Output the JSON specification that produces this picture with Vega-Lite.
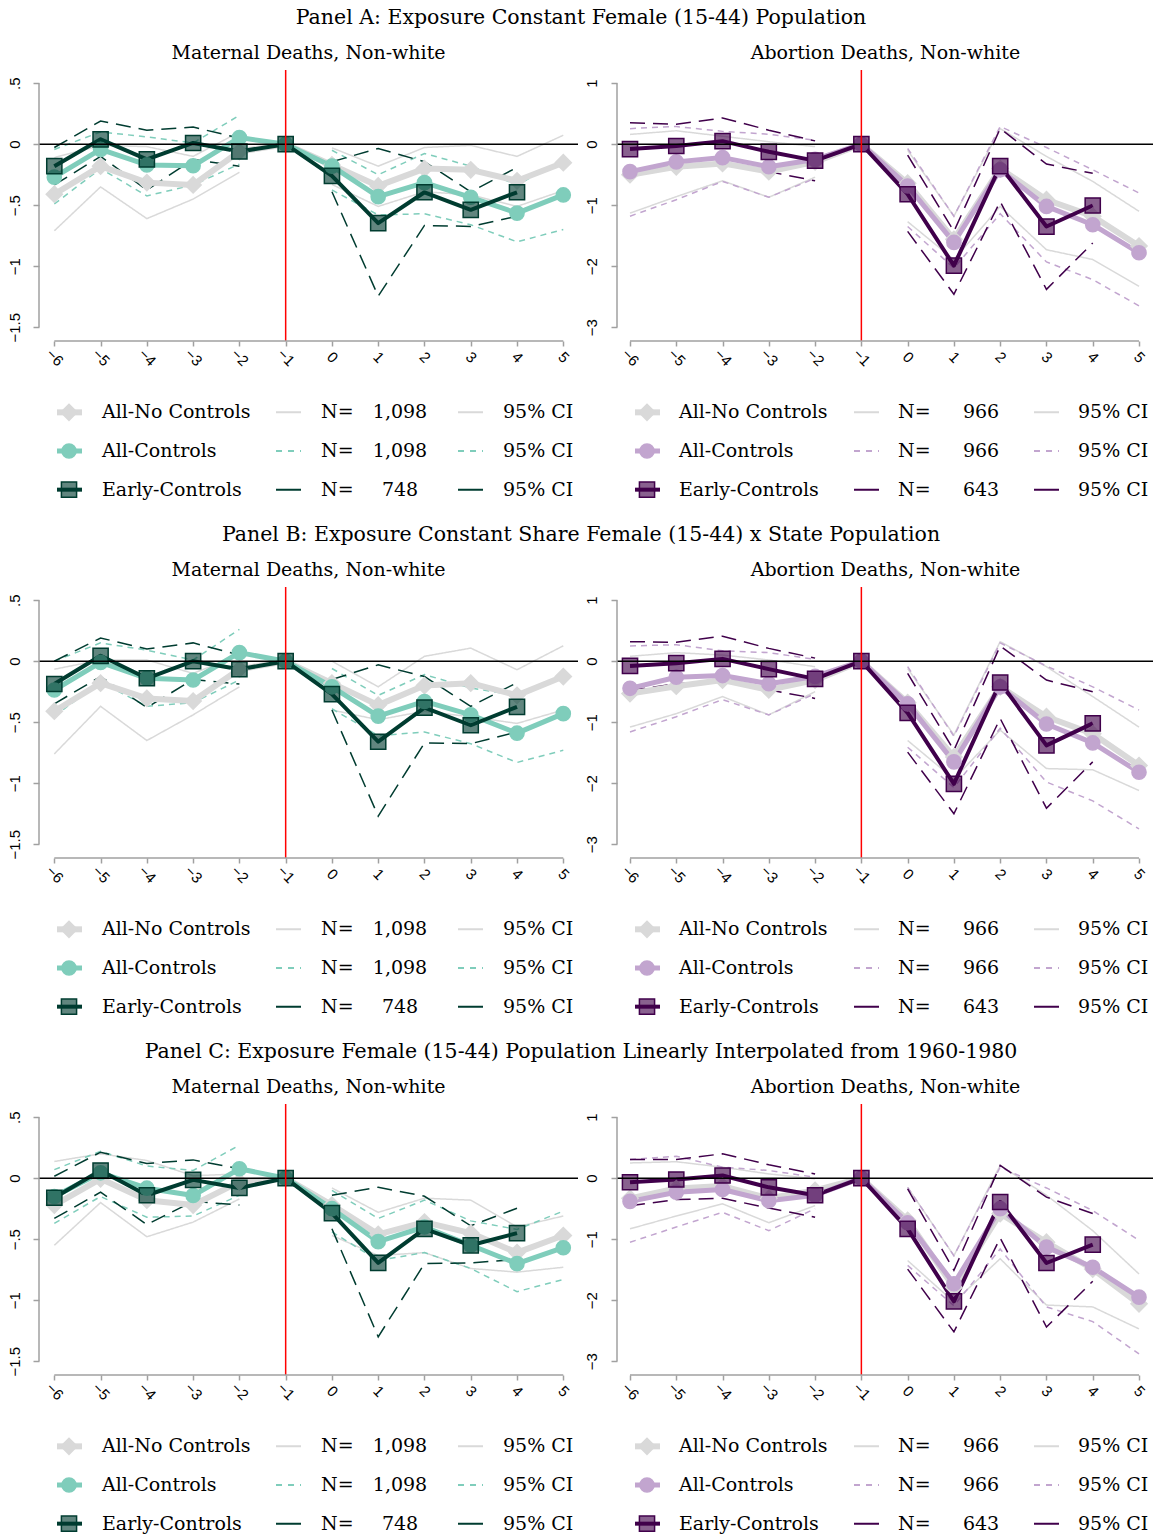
{
"$schema":"https://vega.github.io/schema/vega-lite/v6.json",
"padding":{"left":7,"top":5,"right":0,"bottom":0},
"background":"white",
"config":{"view":{"stroke":null},"font":"DejaVu Serif","legend":{"disable":true},
"title":{"font":"DejaVu Serif","fontSize":19,"fontWeight":"normal","color":"black"},
"axis":{"labelFont":"Liberation Sans","labelFontSize":15,"labelColor":"black","tickColor":"#a0a0a0","tickWidth":1.5,"domain":false,"grid":false}},
"datasets":{
"lm":[{"s":"mnc","lab":"All-No Controls","n":"1,098"},{"s":"mc","lab":"All-Controls","n":"1,098"},{"s":"me","lab":"Early-Controls","n":"748"}],
"la":[{"s":"anc","lab":"All-No Controls","n":"966"},{"s":"ac","lab":"All-Controls","n":"966"},{"s":"ae","lab":"Early-Controls","n":"643"}],
"d":[
{"p":"A","s":"mnc","t":-6,"b":-0.41,"lo":-0.71,"hi":-0.11},
{"p":"A","s":"mnc","t":-5,"b":-0.18,"lo":-0.35,"hi":-0.01},
{"p":"A","s":"mnc","t":-4,"b":-0.315,"lo":-0.61,"hi":-0.02},
{"p":"A","s":"mnc","t":-3,"b":-0.334,"lo":-0.45,"hi":-0.1},
{"p":"A","s":"mnc","t":-2,"b":-0.06,"lo":-0.23,"hi":0.1},
{"p":"A","s":"mnc","t":-1,"b":0,"lo":null,"hi":null},
{"p":"A","s":"mnc","t":0,"b":-0.17,"lo":-0.33,"hi":-0.03},
{"p":"A","s":"mnc","t":1,"b":-0.342,"lo":-0.51,"hi":-0.18},
{"p":"A","s":"mnc","t":2,"b":-0.2,"lo":-0.39,"hi":-0.027},
{"p":"A","s":"mnc","t":3,"b":-0.21,"lo":-0.415,"hi":-0.01},
{"p":"A","s":"mnc","t":4,"b":-0.3,"lo":-0.51,"hi":-0.1},
{"p":"A","s":"mnc","t":5,"b":-0.152,"lo":-0.38,"hi":0.073},
{"p":"A","s":"mc","t":-6,"b":-0.27,"lo":-0.49,"hi":-0.043},
{"p":"A","s":"mc","t":-5,"b":-0.043,"lo":-0.2,"hi":0.1},
{"p":"A","s":"mc","t":-4,"b":-0.17,"lo":-0.424,"hi":0.06},
{"p":"A","s":"mc","t":-3,"b":-0.177,"lo":-0.334,"hi":0.01},
{"p":"A","s":"mc","t":-2,"b":0.054,"lo":-0.163,"hi":0.236},
{"p":"A","s":"mc","t":-1,"b":0,"lo":null,"hi":null},
{"p":"A","s":"mc","t":0,"b":-0.18,"lo":-0.375,"hi":-0.05},
{"p":"A","s":"mc","t":1,"b":-0.43,"lo":-0.58,"hi":-0.25},
{"p":"A","s":"mc","t":2,"b":-0.315,"lo":-0.57,"hi":-0.076},
{"p":"A","s":"mc","t":3,"b":-0.435,"lo":-0.66,"hi":-0.18},
{"p":"A","s":"mc","t":4,"b":-0.565,"lo":-0.8,"hi":-0.334},
{"p":"A","s":"mc","t":5,"b":-0.416,"lo":-0.7,"hi":-0.13},
{"p":"A","s":"me","t":-6,"b":-0.18,"lo":-0.334,"hi":-0.027},
{"p":"A","s":"me","t":-5,"b":0.04,"lo":-0.1,"hi":0.19},
{"p":"A","s":"me","t":-4,"b":-0.125,"lo":-0.375,"hi":0.114},
{"p":"A","s":"me","t":-3,"b":0.01,"lo":-0.125,"hi":0.14},
{"p":"A","s":"me","t":-2,"b":-0.06,"lo":-0.18,"hi":0.05},
{"p":"A","s":"me","t":-1,"b":0,"lo":null,"hi":null},
{"p":"A","s":"me","t":0,"b":-0.26,"lo":-0.39,"hi":-0.144},
{"p":"A","s":"me","t":1,"b":-0.647,"lo":-1.245,"hi":-0.035},
{"p":"A","s":"me","t":2,"b":-0.394,"lo":-0.666,"hi":-0.144},
{"p":"A","s":"me","t":3,"b":-0.538,"lo":-0.674,"hi":-0.39},
{"p":"A","s":"me","t":4,"b":-0.394,"lo":-0.59,"hi":-0.19},
{"p":"A","s":"anc","t":-6,"b":-0.5,"lo":-1.13,"hi":0.16},
{"p":"A","s":"anc","t":-5,"b":-0.37,"lo":-0.86,"hi":0.22},
{"p":"A","s":"anc","t":-4,"b":-0.315,"lo":-0.6,"hi":0.13},
{"p":"A","s":"anc","t":-3,"b":-0.45,"lo":-0.87,"hi":0.04},
{"p":"A","s":"anc","t":-2,"b":-0.29,"lo":-0.54,"hi":-0.04},
{"p":"A","s":"anc","t":-1,"b":0,"lo":null,"hi":null},
{"p":"A","s":"anc","t":0,"b":-0.64,"lo":-1.27,"hi":-0.1},
{"p":"A","s":"anc","t":1,"b":-1.56,"lo":-1.89,"hi":-1.18},
{"p":"A","s":"anc","t":2,"b":-0.4,"lo":-1.02,"hi":0.255},
{"p":"A","s":"anc","t":3,"b":-0.91,"lo":-1.73,"hi":-0.2},
{"p":"A","s":"anc","t":4,"b":-1.18,"lo":-1.89,"hi":-0.61},
{"p":"A","s":"anc","t":5,"b":-1.67,"lo":-2.33,"hi":-1.1},
{"p":"A","s":"ac","t":-6,"b":-0.45,"lo":-1.18,"hi":0.255},
{"p":"A","s":"ac","t":-5,"b":-0.29,"lo":-0.91,"hi":0.29},
{"p":"A","s":"ac","t":-4,"b":-0.22,"lo":-0.61,"hi":0.21},
{"p":"A","s":"ac","t":-3,"b":-0.37,"lo":-0.87,"hi":0.163},
{"p":"A","s":"ac","t":-2,"b":-0.25,"lo":-0.56,"hi":0.065},
{"p":"A","s":"ac","t":-1,"b":0,"lo":null,"hi":null},
{"p":"A","s":"ac","t":0,"b":-0.685,"lo":-1.35,"hi":-0.07},
{"p":"A","s":"ac","t":1,"b":-1.61,"lo":-2.03,"hi":-1.18},
{"p":"A","s":"ac","t":2,"b":-0.42,"lo":-1.14,"hi":0.29},
{"p":"A","s":"ac","t":3,"b":-1.02,"lo":-1.93,"hi":-0.054},
{"p":"A","s":"ac","t":4,"b":-1.32,"lo":-2.22,"hi":-0.42},
{"p":"A","s":"ac","t":5,"b":-1.78,"lo":-2.65,"hi":-0.8},
{"p":"A","s":"ae","t":-6,"b":-0.08,"lo":-0.49,"hi":0.35},
{"p":"A","s":"ae","t":-5,"b":-0.03,"lo":-0.36,"hi":0.326},
{"p":"A","s":"ae","t":-4,"b":0.05,"lo":-0.326,"hi":0.43},
{"p":"A","s":"ae","t":-3,"b":-0.125,"lo":-0.45,"hi":0.23},
{"p":"A","s":"ae","t":-2,"b":-0.27,"lo":-0.6,"hi":0.054},
{"p":"A","s":"ae","t":-1,"b":0,"lo":null,"hi":null},
{"p":"A","s":"ae","t":0,"b":-0.82,"lo":-1.43,"hi":-0.18},
{"p":"A","s":"ae","t":1,"b":-1.99,"lo":-2.46,"hi":-1.43},
{"p":"A","s":"ae","t":2,"b":-0.36,"lo":-0.94,"hi":0.255},
{"p":"A","s":"ae","t":3,"b":-1.35,"lo":-2.38,"hi":-0.326},
{"p":"A","s":"ae","t":4,"b":-1.005,"lo":-1.62,"hi":-0.478},
{"p":"B","s":"mnc","t":-6,"b":-0.41,"lo":-0.76,"hi":-0.066},
{"p":"B","s":"mnc","t":-5,"b":-0.18,"lo":-0.37,"hi":0.01},
{"p":"B","s":"mnc","t":-4,"b":-0.305,"lo":-0.65,"hi":0.01},
{"p":"B","s":"mnc","t":-3,"b":-0.327,"lo":-0.44,"hi":-0.1},
{"p":"B","s":"mnc","t":-2,"b":-0.066,"lo":-0.21,"hi":0.05},
{"p":"B","s":"mnc","t":-1,"b":0,"lo":null,"hi":null},
{"p":"B","s":"mnc","t":0,"b":-0.18,"lo":-0.4,"hi":0.0},
{"p":"B","s":"mnc","t":1,"b":-0.36,"lo":-0.48,"hi":-0.21},
{"p":"B","s":"mnc","t":2,"b":-0.2,"lo":-0.41,"hi":0.04},
{"p":"B","s":"mnc","t":3,"b":-0.18,"lo":-0.456,"hi":0.107},
{"p":"B","s":"mnc","t":4,"b":-0.28,"lo":-0.51,"hi":-0.07},
{"p":"B","s":"mnc","t":5,"b":-0.126,"lo":-0.4,"hi":0.126},
{"p":"B","s":"mc","t":-6,"b":-0.236,"lo":-0.45,"hi":0.0},
{"p":"B","s":"mc","t":-5,"b":-0.01,"lo":-0.17,"hi":0.15},
{"p":"B","s":"mc","t":-4,"b":-0.14,"lo":-0.37,"hi":0.09},
{"p":"B","s":"mc","t":-3,"b":-0.154,"lo":-0.34,"hi":0.01},
{"p":"B","s":"mc","t":-2,"b":0.07,"lo":-0.154,"hi":0.26},
{"p":"B","s":"mc","t":-1,"b":0,"lo":null,"hi":null},
{"p":"B","s":"mc","t":0,"b":-0.21,"lo":-0.39,"hi":-0.06},
{"p":"B","s":"mc","t":1,"b":-0.45,"lo":-0.61,"hi":-0.28},
{"p":"B","s":"mc","t":2,"b":-0.33,"lo":-0.58,"hi":-0.11},
{"p":"B","s":"mc","t":3,"b":-0.44,"lo":-0.676,"hi":-0.22},
{"p":"B","s":"mc","t":4,"b":-0.59,"lo":-0.83,"hi":-0.28},
{"p":"B","s":"mc","t":5,"b":-0.43,"lo":-0.73,"hi":-0.126},
{"p":"B","s":"me","t":-6,"b":-0.187,"lo":-0.35,"hi":0.0},
{"p":"B","s":"me","t":-5,"b":0.044,"lo":-0.126,"hi":0.19},
{"p":"B","s":"me","t":-4,"b":-0.14,"lo":-0.38,"hi":0.1},
{"p":"B","s":"me","t":-3,"b":0.0,"lo":-0.15,"hi":0.15},
{"p":"B","s":"me","t":-2,"b":-0.066,"lo":-0.187,"hi":0.05},
{"p":"B","s":"me","t":-1,"b":0,"lo":null,"hi":null},
{"p":"B","s":"me","t":0,"b":-0.27,"lo":-0.4,"hi":-0.15},
{"p":"B","s":"me","t":1,"b":-0.66,"lo":-1.27,"hi":-0.03},
{"p":"B","s":"me","t":2,"b":-0.38,"lo":-0.67,"hi":-0.126},
{"p":"B","s":"me","t":3,"b":-0.525,"lo":-0.676,"hi":-0.37},
{"p":"B","s":"me","t":4,"b":-0.374,"lo":-0.58,"hi":-0.176},
{"p":"B","s":"anc","t":-6,"b":-0.53,"lo":-1.08,"hi":0.08},
{"p":"B","s":"anc","t":-5,"b":-0.41,"lo":-0.86,"hi":0.14},
{"p":"B","s":"anc","t":-4,"b":-0.31,"lo":-0.58,"hi":0.1},
{"p":"B","s":"anc","t":-3,"b":-0.47,"lo":-0.88,"hi":0.02},
{"p":"B","s":"anc","t":-2,"b":-0.31,"lo":-0.5,"hi":-0.09},
{"p":"B","s":"anc","t":-1,"b":0,"lo":null,"hi":null},
{"p":"B","s":"anc","t":0,"b":-0.68,"lo":-1.3,"hi":-0.12},
{"p":"B","s":"anc","t":1,"b":-1.57,"lo":-1.93,"hi":-1.21},
{"p":"B","s":"anc","t":2,"b":-0.42,"lo":-1.13,"hi":0.32},
{"p":"B","s":"anc","t":3,"b":-0.91,"lo":-1.76,"hi":-0.09},
{"p":"B","s":"anc","t":4,"b":-1.19,"lo":-1.78,"hi":-0.58},
{"p":"B","s":"anc","t":5,"b":-1.71,"lo":-2.12,"hi":-1.08},
{"p":"B","s":"ac","t":-6,"b":-0.445,"lo":-1.16,"hi":0.25},
{"p":"B","s":"ac","t":-5,"b":-0.264,"lo":-0.91,"hi":0.27},
{"p":"B","s":"ac","t":-4,"b":-0.236,"lo":-0.63,"hi":0.17},
{"p":"B","s":"ac","t":-3,"b":-0.37,"lo":-0.88,"hi":0.14},
{"p":"B","s":"ac","t":-2,"b":-0.25,"lo":-0.53,"hi":0.03},
{"p":"B","s":"ac","t":-1,"b":0,"lo":null,"hi":null},
{"p":"B","s":"ac","t":0,"b":-0.7,"lo":-1.41,"hi":-0.09},
{"p":"B","s":"ac","t":1,"b":-1.65,"lo":-2.07,"hi":-1.23},
{"p":"B","s":"ac","t":2,"b":-0.42,"lo":-1.1,"hi":0.3},
{"p":"B","s":"ac","t":3,"b":-1.03,"lo":-1.98,"hi":-0.08},
{"p":"B","s":"ac","t":4,"b":-1.34,"lo":-2.29,"hi":-0.42},
{"p":"B","s":"ac","t":5,"b":-1.82,"lo":-2.75,"hi":-0.8},
{"p":"B","s":"ae","t":-6,"b":-0.077,"lo":-0.48,"hi":0.32},
{"p":"B","s":"ae","t":-5,"b":-0.033,"lo":-0.37,"hi":0.31},
{"p":"B","s":"ae","t":-4,"b":0.038,"lo":-0.335,"hi":0.41},
{"p":"B","s":"ae","t":-3,"b":-0.13,"lo":-0.47,"hi":0.21},
{"p":"B","s":"ae","t":-2,"b":-0.29,"lo":-0.61,"hi":0.05},
{"p":"B","s":"ae","t":-1,"b":0,"lo":null,"hi":null},
{"p":"B","s":"ae","t":0,"b":-0.846,"lo":-1.49,"hi":-0.2},
{"p":"B","s":"ae","t":1,"b":-2.01,"lo":-2.5,"hi":-1.46},
{"p":"B","s":"ae","t":2,"b":-0.35,"lo":-0.94,"hi":0.25},
{"p":"B","s":"ae","t":3,"b":-1.38,"lo":-2.41,"hi":-0.31},
{"p":"B","s":"ae","t":4,"b":-1.02,"lo":-1.65,"hi":-0.5},
{"p":"C","s":"mnc","t":-6,"b":-0.22,"lo":-0.55,"hi":0.137},
{"p":"C","s":"mnc","t":-5,"b":-0.005,"lo":-0.2,"hi":0.2},
{"p":"C","s":"mnc","t":-4,"b":-0.18,"lo":-0.48,"hi":0.145},
{"p":"C","s":"mnc","t":-3,"b":-0.22,"lo":-0.36,"hi":0.02},
{"p":"C","s":"mnc","t":-2,"b":-0.03,"lo":-0.17,"hi":0.035},
{"p":"C","s":"mnc","t":-1,"b":0,"lo":null,"hi":null},
{"p":"C","s":"mnc","t":0,"b":-0.22,"lo":-0.47,"hi":-0.08},
{"p":"C","s":"mnc","t":1,"b":-0.46,"lo":-0.634,"hi":-0.28},
{"p":"C","s":"mnc","t":2,"b":-0.36,"lo":-0.61,"hi":-0.164},
{"p":"C","s":"mnc","t":3,"b":-0.45,"lo":-0.74,"hi":-0.18},
{"p":"C","s":"mnc","t":4,"b":-0.61,"lo":-0.77,"hi":-0.4},
{"p":"C","s":"mnc","t":5,"b":-0.47,"lo":-0.73,"hi":-0.31},
{"p":"C","s":"mc","t":-6,"b":-0.15,"lo":-0.37,"hi":0.07},
{"p":"C","s":"mc","t":-5,"b":0.044,"lo":-0.15,"hi":0.22},
{"p":"C","s":"mc","t":-4,"b":-0.082,"lo":-0.32,"hi":0.1},
{"p":"C","s":"mc","t":-3,"b":-0.142,"lo":-0.31,"hi":0.063},
{"p":"C","s":"mc","t":-2,"b":0.077,"lo":-0.14,"hi":0.27},
{"p":"C","s":"mc","t":-1,"b":0,"lo":null,"hi":null},
{"p":"C","s":"mc","t":0,"b":-0.25,"lo":-0.44,"hi":-0.1},
{"p":"C","s":"mc","t":1,"b":-0.52,"lo":-0.675,"hi":-0.33},
{"p":"C","s":"mc","t":2,"b":-0.4,"lo":-0.61,"hi":-0.18},
{"p":"C","s":"mc","t":3,"b":-0.55,"lo":-0.74,"hi":-0.35},
{"p":"C","s":"mc","t":4,"b":-0.7,"lo":-0.93,"hi":-0.42},
{"p":"C","s":"mc","t":5,"b":-0.57,"lo":-0.83,"hi":-0.27},
{"p":"C","s":"me","t":-6,"b":-0.16,"lo":-0.33,"hi":0.016},
{"p":"C","s":"me","t":-5,"b":0.063,"lo":-0.115,"hi":0.213},
{"p":"C","s":"me","t":-4,"b":-0.14,"lo":-0.38,"hi":0.12},
{"p":"C","s":"me","t":-3,"b":-0.014,"lo":-0.19,"hi":0.15},
{"p":"C","s":"me","t":-2,"b":-0.08,"lo":-0.22,"hi":0.077},
{"p":"C","s":"me","t":-1,"b":0,"lo":null,"hi":null},
{"p":"C","s":"me","t":0,"b":-0.287,"lo":-0.415,"hi":-0.14},
{"p":"C","s":"me","t":1,"b":-0.694,"lo":-1.3,"hi":-0.074},
{"p":"C","s":"me","t":2,"b":-0.415,"lo":-0.7,"hi":-0.148},
{"p":"C","s":"me","t":3,"b":-0.55,"lo":-0.694,"hi":-0.39},
{"p":"C","s":"me","t":4,"b":-0.45,"lo":-0.667,"hi":-0.246},
{"p":"C","s":"anc","t":-6,"b":-0.33,"lo":-0.83,"hi":0.25},
{"p":"C","s":"anc","t":-5,"b":-0.17,"lo":-0.62,"hi":0.27},
{"p":"C","s":"anc","t":-4,"b":-0.13,"lo":-0.42,"hi":0.18},
{"p":"C","s":"anc","t":-3,"b":-0.33,"lo":-0.73,"hi":0.07},
{"p":"C","s":"anc","t":-2,"b":-0.2,"lo":-0.45,"hi":-0.01},
{"p":"C","s":"anc","t":-1,"b":0,"lo":null,"hi":null},
{"p":"C","s":"anc","t":0,"b":-0.69,"lo":-1.35,"hi":-0.15},
{"p":"C","s":"anc","t":1,"b":-1.79,"lo":-2.03,"hi":-1.27},
{"p":"C","s":"anc","t":2,"b":-0.58,"lo":-1.32,"hi":0.21},
{"p":"C","s":"anc","t":3,"b":-1.05,"lo":-2.08,"hi":-0.28},
{"p":"C","s":"anc","t":4,"b":-1.49,"lo":-2.11,"hi":-0.86},
{"p":"C","s":"anc","t":5,"b":-2.06,"lo":-2.47,"hi":-1.57},
{"p":"C","s":"ac","t":-6,"b":-0.38,"lo":-1.05,"hi":0.306},
{"p":"C","s":"ac","t":-5,"b":-0.23,"lo":-0.8,"hi":0.36},
{"p":"C","s":"ac","t":-4,"b":-0.186,"lo":-0.56,"hi":0.18},
{"p":"C","s":"ac","t":-3,"b":-0.37,"lo":-0.86,"hi":0.126},
{"p":"C","s":"ac","t":-2,"b":-0.28,"lo":-0.5,"hi":0.016},
{"p":"C","s":"ac","t":-1,"b":0,"lo":null,"hi":null},
{"p":"C","s":"ac","t":0,"b":-0.73,"lo":-1.43,"hi":-0.15},
{"p":"C","s":"ac","t":1,"b":-1.73,"lo":-2.09,"hi":-1.27},
{"p":"C","s":"ac","t":2,"b":-0.5,"lo":-1.16,"hi":0.18},
{"p":"C","s":"ac","t":3,"b":-1.13,"lo":-2.11,"hi":-0.16},
{"p":"C","s":"ac","t":4,"b":-1.46,"lo":-2.35,"hi":-0.53},
{"p":"C","s":"ac","t":5,"b":-1.95,"lo":-2.88,"hi":-1.02},
{"p":"C","s":"ae","t":-6,"b":-0.066,"lo":-0.45,"hi":0.306},
{"p":"C","s":"ae","t":-5,"b":-0.022,"lo":-0.35,"hi":0.306},
{"p":"C","s":"ae","t":-4,"b":0.044,"lo":-0.33,"hi":0.4},
{"p":"C","s":"ae","t":-3,"b":-0.15,"lo":-0.49,"hi":0.22},
{"p":"C","s":"ae","t":-2,"b":-0.28,"lo":-0.64,"hi":0.07},
{"p":"C","s":"ae","t":-1,"b":0,"lo":null,"hi":null},
{"p":"C","s":"ae","t":0,"b":-0.83,"lo":-1.49,"hi":-0.175},
{"p":"C","s":"ae","t":1,"b":-2.02,"lo":-2.52,"hi":-1.51},
{"p":"C","s":"ae","t":2,"b":-0.39,"lo":-0.98,"hi":0.21},
{"p":"C","s":"ae","t":3,"b":-1.39,"lo":-2.44,"hi":-0.31},
{"p":"C","s":"ae","t":4,"b":-1.09,"lo":-1.69,"hi":-0.58}
]},
"spacing":13,
"vconcat":[
{"spacing":13,"vconcat":[
{"width":1084,"height":26,"data":{"values":[{"t":"Panel A: Exposure Constant Female (15-44) Population"}]},"mark":{"type":"text","fontSize":20.5,"font":"DejaVu Serif","baseline":"middle","align":"center"},"encoding":{"text":{"field":"t"},"x":{"datum":0.5,"type":"quantitative","scale":{"domain":[0,1]},"axis":null},"y":{"datum":0.5,"type":"quantitative","scale":{"domain":[0,1]},"axis":null}}},
{"spacing":5,"hconcat":[
{"spacing":24,"vconcat":[
{"width":539,"height":271,"title":{"text":"Maternal Deaths, Non-white","baseline":"alphabetic","offset":-9,"anchor":"middle"},
"layer":[
{"data":{"name":"d"},"transform":[{"filter":"datum.p=='A' && indexof(datum.s,'m')==0"}],
"encoding":{"x":{"field":"t","type":"quantitative","scale":{"domain":[-6.331,5.318],"nice":false,"zero":false},"axis":{"values":[-6,-5,-4,-3,-2,-1,0,1,2,3,4,5],"format":"d","labelAngle":45,"labelAlign":"center","labelBaseline":"middle","labelPadding":11,"tickSize":5,"labelOverlap":false,"labelFlush":false,"title":null}}},
"layer":[
{"mark":{"type":"line","strokeWidth":1.5},"encoding":{"y":{"field":"lo","type":"quantitative","scale":{"domain":[-1.613,0.608],"nice":false,"zero":false},"axis":{"values":[-1.5,-1,-0.5,0,0.5],"labelExpr":"replace(format(datum.value,'.2~f'),'0.','.')","labelAngle":-90,"labelAlign":"center","labelBaseline":"alphabetic","labelPadding":14,"tickSize":6,"labelOverlap":false,"labelFlush":false,"title":null}},
"stroke":{"field":"s","type":"nominal","scale":{"domain":["mnc","mc","me","anc","ac","ae"],"range":["#d9d9d9","#7fcdbb","#003c30","#d9d9d9","#c2a5cf","#40004b"]}},
"strokeDash":{"field":"s","type":"nominal","scale":{"domain":["mnc","mc","me","anc","ac","ae"],"range":[[1,0],[6,5],[15,8],[1,0],[6,5],[15,8]]}}}},
{"mark":{"type":"line","strokeWidth":1.5},"encoding":{"y":{"field":"hi","type":"quantitative","scale":{"domain":[-1.613,0.608],"nice":false,"zero":false}},
"stroke":{"field":"s","type":"nominal","scale":{"domain":["mnc","mc","me","anc","ac","ae"],"range":["#d9d9d9","#7fcdbb","#003c30","#d9d9d9","#c2a5cf","#40004b"]}},
"strokeDash":{"field":"s","type":"nominal","scale":{"domain":["mnc","mc","me","anc","ac","ae"],"range":[[1,0],[6,5],[15,8],[1,0],[6,5],[15,8]]}}}},
{"mark":{"type":"line","strokeJoin":"round"},"encoding":{"y":{"field":"b","type":"quantitative","scale":{"domain":[-1.613,0.608],"nice":false,"zero":false}},
"stroke":{"field":"s","type":"nominal","scale":{"domain":["mnc","mc","me","anc","ac","ae"],"range":["#d9d9d9","#7fcdbb","#003c30","#d9d9d9","#c2a5cf","#40004b"]}},
"strokeWidth":{"field":"s","type":"nominal","scale":{"type":"ordinal","domain":["mnc","mc","me","anc","ac","ae"],"range":[6,5,4,6,5,4]}}}},
{"mark":{"type":"point","filled":true,"strokeWidth":1.5,"opacity":1},"encoding":{"y":{"field":"b","type":"quantitative","scale":{"domain":[-1.613,0.608],"nice":false,"zero":false}},
"stroke":{"field":"s","type":"nominal","scale":{"domain":["mnc","mc","me","anc","ac","ae"],"range":["#d9d9d9","#7fcdbb","#003c30","#d9d9d9","#c2a5cf","#40004b"]}},
"fill":{"field":"s","type":"nominal","scale":{"domain":["mnc","mc","me","anc","ac","ae"],"range":["#d9d9d9","#7fcdbb","#003c30","#d9d9d9","#c2a5cf","#40004b"]}},
"fillOpacity":{"condition":{"test":"datum.s=='me'||datum.s=='ae'","value":0.62},"value":1},
"shape":{"field":"s","type":"nominal","scale":{"domain":["mnc","mc","me","anc","ac","ae"],"range":["diamond","circle","square","diamond","circle","square"]}},
"size":{"field":"s","type":"nominal","scale":{"type":"ordinal","domain":["mnc","mc","me","anc","ac","ae"],"range":[260,200,230,260,200,230]}}}}
]},
{"data":{"values":[{}]},"mark":{"type":"rule","color":"#000000","strokeWidth":1.5},"encoding":{"y":{"datum":0,"type":"quantitative","scale":{"domain":[-1.613,0.608],"nice":false,"zero":false}}}},
{"data":{"values":[{}]},"mark":{"type":"rule","color":"#ff0000","strokeWidth":1.5},"encoding":{"x":{"datum":-1,"type":"quantitative","scale":{"domain":[-6.331,5.318],"nice":false,"zero":false}}}},
{"data":{"values":[{}]},"mark":{"type":"rule","color":"#a0a0a0","strokeWidth":1.5},"encoding":{"x":{"datum":-6.331,"type":"quantitative","scale":{"domain":[-6.331,5.318],"nice":false,"zero":false}},"y":{"datum":-1.5,"type":"quantitative","scale":{"domain":[-1.613,0.608],"nice":false,"zero":false}},"y2":{"datum":0.5}}},
{"data":{"values":[{}]},"mark":{"type":"rule","color":"#a0a0a0","strokeWidth":1.5},"encoding":{"y":{"datum":-1.613,"type":"quantitative","scale":{"domain":[-1.613,0.608],"nice":false,"zero":false}},"x":{"datum":-6,"type":"quantitative","scale":{"domain":[-6.331,5.318],"nice":false,"zero":false}},"x2":{"datum":5}}}
]},
{"width":539,"height":116,"data":{"name":"lm"},
"encoding":{"y":{"field":"lab","type":"nominal","sort":null,"axis":null,"scale":{"type":"point","padding":0.5}}},
"layer":[
{"mark":{"type":"rule","strokeCap":"butt"},"encoding":{"x":{"datum":18,"type":"quantitative","scale":{"domain":[0,539],"nice":false,"zero":false},"axis":null},"x2":{"datum":43},
"stroke":{"field":"s","type":"nominal","scale":{"domain":["mnc","mc","me","anc","ac","ae"],"range":["#d9d9d9","#7fcdbb","#003c30","#d9d9d9","#c2a5cf","#40004b"]}},
"strokeWidth":{"field":"s","type":"nominal","scale":{"type":"ordinal","domain":["mnc","mc","me","anc","ac","ae"],"range":[6,5,4,6,5,4]}}}},
{"mark":{"type":"point","filled":true,"strokeWidth":1.5,"opacity":1},"encoding":{"x":{"datum":30,"type":"quantitative","scale":{"domain":[0,539],"nice":false,"zero":false},"axis":null},
"stroke":{"field":"s","type":"nominal","scale":{"domain":["mnc","mc","me","anc","ac","ae"],"range":["#d9d9d9","#7fcdbb","#003c30","#d9d9d9","#c2a5cf","#40004b"]}},
"fill":{"field":"s","type":"nominal","scale":{"domain":["mnc","mc","me","anc","ac","ae"],"range":["#d9d9d9","#7fcdbb","#003c30","#d9d9d9","#c2a5cf","#40004b"]}},
"fillOpacity":{"condition":{"test":"datum.s=='me'||datum.s=='ae'","value":0.62},"value":1},
"shape":{"field":"s","type":"nominal","scale":{"domain":["mnc","mc","me","anc","ac","ae"],"range":["diamond","circle","square","diamond","circle","square"]}},
"size":{"field":"s","type":"nominal","scale":{"type":"ordinal","domain":["mnc","mc","me","anc","ac","ae"],"range":[260,200,230,260,200,230]}}}},
{"mark":{"type":"text","align":"left","baseline":"middle","fontSize":19,"font":"DejaVu Serif"},"encoding":{"x":{"datum":63,"type":"quantitative","scale":{"domain":[0,539],"nice":false,"zero":false},"axis":null},"text":{"field":"lab"}}},
{"mark":{"type":"rule","strokeWidth":2,"strokeCap":"butt"},"encoding":{"x":{"datum":237,"type":"quantitative","scale":{"domain":[0,539],"nice":false,"zero":false},"axis":null},"x2":{"datum":262},
"stroke":{"field":"s","type":"nominal","scale":{"domain":["mnc","mc","me","anc","ac","ae"],"range":["#d9d9d9","#7fcdbb","#003c30","#d9d9d9","#c2a5cf","#40004b"]}},
"strokeDash":{"condition":{"test":"datum.s=='mc'||datum.s=='ac'","value":[6,6]},"value":[1,0]}}},
{"mark":{"type":"text","align":"left","baseline":"middle","fontSize":19,"font":"DejaVu Serif"},"encoding":{"x":{"datum":282,"type":"quantitative","scale":{"domain":[0,539],"nice":false,"zero":false},"axis":null},"text":{"value":"N="}}},
{"mark":{"type":"text","align":"center","baseline":"middle","fontSize":19,"font":"DejaVu Serif"},"encoding":{"x":{"datum":361,"type":"quantitative","scale":{"domain":[0,539],"nice":false,"zero":false},"axis":null},"text":{"field":"n"}}},
{"mark":{"type":"rule","strokeWidth":2,"strokeCap":"butt"},"encoding":{"x":{"datum":419,"type":"quantitative","scale":{"domain":[0,539],"nice":false,"zero":false},"axis":null},"x2":{"datum":444},
"stroke":{"field":"s","type":"nominal","scale":{"domain":["mnc","mc","me","anc","ac","ae"],"range":["#d9d9d9","#7fcdbb","#003c30","#d9d9d9","#c2a5cf","#40004b"]}},
"strokeDash":{"condition":{"test":"datum.s=='mc'||datum.s=='ac'","value":[6,6]},"value":[1,0]}}},
{"mark":{"type":"text","align":"left","baseline":"middle","fontSize":19,"font":"DejaVu Serif"},"encoding":{"x":{"datum":464,"type":"quantitative","scale":{"domain":[0,539],"nice":false,"zero":false},"axis":null},"text":{"value":"95% CI"}}}
]}
]},
{"spacing":24,"vconcat":[
{"width":537,"height":271,"title":{"text":"Abortion Deaths, Non-white","baseline":"alphabetic","offset":-9,"anchor":"middle"},
"layer":[
{"data":{"name":"d"},"transform":[{"filter":"datum.p=='A' && indexof(datum.s,'a')==0"}],
"encoding":{"x":{"field":"t","type":"quantitative","scale":{"domain":[-6.281,5.324],"nice":false,"zero":false},"axis":{"values":[-6,-5,-4,-3,-2,-1,0,1,2,3,4,5],"format":"d","labelAngle":45,"labelAlign":"center","labelBaseline":"middle","labelPadding":11,"tickSize":5,"labelOverlap":false,"labelFlush":false,"title":null}}},
"layer":[
{"mark":{"type":"line","strokeWidth":1.5},"encoding":{"y":{"field":"lo","type":"quantitative","scale":{"domain":[-3.226,1.216],"nice":false,"zero":false},"axis":{"values":[-3,-2,-1,0,1],"labelExpr":"replace(format(datum.value,'.2~f'),'0.','.')","labelAngle":-90,"labelAlign":"center","labelBaseline":"alphabetic","labelPadding":15,"tickSize":6,"labelOverlap":false,"labelFlush":false,"title":null}},
"stroke":{"field":"s","type":"nominal","scale":{"domain":["mnc","mc","me","anc","ac","ae"],"range":["#d9d9d9","#7fcdbb","#003c30","#d9d9d9","#c2a5cf","#40004b"]}},
"strokeDash":{"field":"s","type":"nominal","scale":{"domain":["mnc","mc","me","anc","ac","ae"],"range":[[1,0],[6,5],[15,8],[1,0],[6,5],[15,8]]}}}},
{"mark":{"type":"line","strokeWidth":1.5},"encoding":{"y":{"field":"hi","type":"quantitative","scale":{"domain":[-3.226,1.216],"nice":false,"zero":false}},
"stroke":{"field":"s","type":"nominal","scale":{"domain":["mnc","mc","me","anc","ac","ae"],"range":["#d9d9d9","#7fcdbb","#003c30","#d9d9d9","#c2a5cf","#40004b"]}},
"strokeDash":{"field":"s","type":"nominal","scale":{"domain":["mnc","mc","me","anc","ac","ae"],"range":[[1,0],[6,5],[15,8],[1,0],[6,5],[15,8]]}}}},
{"mark":{"type":"line","strokeJoin":"round"},"encoding":{"y":{"field":"b","type":"quantitative","scale":{"domain":[-3.226,1.216],"nice":false,"zero":false}},
"stroke":{"field":"s","type":"nominal","scale":{"domain":["mnc","mc","me","anc","ac","ae"],"range":["#d9d9d9","#7fcdbb","#003c30","#d9d9d9","#c2a5cf","#40004b"]}},
"strokeWidth":{"field":"s","type":"nominal","scale":{"type":"ordinal","domain":["mnc","mc","me","anc","ac","ae"],"range":[6,5,4,6,5,4]}}}},
{"mark":{"type":"point","filled":true,"strokeWidth":1.5,"opacity":1},"encoding":{"y":{"field":"b","type":"quantitative","scale":{"domain":[-3.226,1.216],"nice":false,"zero":false}},
"stroke":{"field":"s","type":"nominal","scale":{"domain":["mnc","mc","me","anc","ac","ae"],"range":["#d9d9d9","#7fcdbb","#003c30","#d9d9d9","#c2a5cf","#40004b"]}},
"fill":{"field":"s","type":"nominal","scale":{"domain":["mnc","mc","me","anc","ac","ae"],"range":["#d9d9d9","#7fcdbb","#003c30","#d9d9d9","#c2a5cf","#40004b"]}},
"fillOpacity":{"condition":{"test":"datum.s=='me'||datum.s=='ae'","value":0.62},"value":1},
"shape":{"field":"s","type":"nominal","scale":{"domain":["mnc","mc","me","anc","ac","ae"],"range":["diamond","circle","square","diamond","circle","square"]}},
"size":{"field":"s","type":"nominal","scale":{"type":"ordinal","domain":["mnc","mc","me","anc","ac","ae"],"range":[260,200,230,260,200,230]}}}}
]},
{"data":{"values":[{}]},"mark":{"type":"rule","color":"#000000","strokeWidth":1.5},"encoding":{"y":{"datum":0,"type":"quantitative","scale":{"domain":[-3.226,1.216],"nice":false,"zero":false}}}},
{"data":{"values":[{}]},"mark":{"type":"rule","color":"#ff0000","strokeWidth":1.5},"encoding":{"x":{"datum":-1,"type":"quantitative","scale":{"domain":[-6.281,5.324],"nice":false,"zero":false}}}},
{"data":{"values":[{}]},"mark":{"type":"rule","color":"#a0a0a0","strokeWidth":1.5},"encoding":{"x":{"datum":-6.281,"type":"quantitative","scale":{"domain":[-6.281,5.324],"nice":false,"zero":false}},"y":{"datum":-3,"type":"quantitative","scale":{"domain":[-3.226,1.216],"nice":false,"zero":false}},"y2":{"datum":1}}},
{"data":{"values":[{}]},"mark":{"type":"rule","color":"#a0a0a0","strokeWidth":1.5},"encoding":{"y":{"datum":-3.226,"type":"quantitative","scale":{"domain":[-3.226,1.216],"nice":false,"zero":false}},"x":{"datum":-6,"type":"quantitative","scale":{"domain":[-6.281,5.324],"nice":false,"zero":false}},"x2":{"datum":5}}}
]},
{"width":537,"height":116,"data":{"name":"la"},
"encoding":{"y":{"field":"lab","type":"nominal","sort":null,"axis":null,"scale":{"type":"point","padding":0.5}}},
"layer":[
{"mark":{"type":"rule","strokeCap":"butt"},"encoding":{"x":{"datum":18,"type":"quantitative","scale":{"domain":[0,537],"nice":false,"zero":false},"axis":null},"x2":{"datum":43},
"stroke":{"field":"s","type":"nominal","scale":{"domain":["mnc","mc","me","anc","ac","ae"],"range":["#d9d9d9","#7fcdbb","#003c30","#d9d9d9","#c2a5cf","#40004b"]}},
"strokeWidth":{"field":"s","type":"nominal","scale":{"type":"ordinal","domain":["mnc","mc","me","anc","ac","ae"],"range":[6,5,4,6,5,4]}}}},
{"mark":{"type":"point","filled":true,"strokeWidth":1.5,"opacity":1},"encoding":{"x":{"datum":30,"type":"quantitative","scale":{"domain":[0,537],"nice":false,"zero":false},"axis":null},
"stroke":{"field":"s","type":"nominal","scale":{"domain":["mnc","mc","me","anc","ac","ae"],"range":["#d9d9d9","#7fcdbb","#003c30","#d9d9d9","#c2a5cf","#40004b"]}},
"fill":{"field":"s","type":"nominal","scale":{"domain":["mnc","mc","me","anc","ac","ae"],"range":["#d9d9d9","#7fcdbb","#003c30","#d9d9d9","#c2a5cf","#40004b"]}},
"fillOpacity":{"condition":{"test":"datum.s=='me'||datum.s=='ae'","value":0.62},"value":1},
"shape":{"field":"s","type":"nominal","scale":{"domain":["mnc","mc","me","anc","ac","ae"],"range":["diamond","circle","square","diamond","circle","square"]}},
"size":{"field":"s","type":"nominal","scale":{"type":"ordinal","domain":["mnc","mc","me","anc","ac","ae"],"range":[260,200,230,260,200,230]}}}},
{"mark":{"type":"text","align":"left","baseline":"middle","fontSize":19,"font":"DejaVu Serif"},"encoding":{"x":{"datum":62,"type":"quantitative","scale":{"domain":[0,537],"nice":false,"zero":false},"axis":null},"text":{"field":"lab"}}},
{"mark":{"type":"rule","strokeWidth":2,"strokeCap":"butt"},"encoding":{"x":{"datum":237,"type":"quantitative","scale":{"domain":[0,537],"nice":false,"zero":false},"axis":null},"x2":{"datum":262},
"stroke":{"field":"s","type":"nominal","scale":{"domain":["mnc","mc","me","anc","ac","ae"],"range":["#d9d9d9","#7fcdbb","#003c30","#d9d9d9","#c2a5cf","#40004b"]}},
"strokeDash":{"condition":{"test":"datum.s=='mc'||datum.s=='ac'","value":[6,6]},"value":[1,0]}}},
{"mark":{"type":"text","align":"left","baseline":"middle","fontSize":19,"font":"DejaVu Serif"},"encoding":{"x":{"datum":281,"type":"quantitative","scale":{"domain":[0,537],"nice":false,"zero":false},"axis":null},"text":{"value":"N="}}},
{"mark":{"type":"text","align":"center","baseline":"middle","fontSize":19,"font":"DejaVu Serif"},"encoding":{"x":{"datum":364,"type":"quantitative","scale":{"domain":[0,537],"nice":false,"zero":false},"axis":null},"text":{"field":"n"}}},
{"mark":{"type":"rule","strokeWidth":2,"strokeCap":"butt"},"encoding":{"x":{"datum":417,"type":"quantitative","scale":{"domain":[0,537],"nice":false,"zero":false},"axis":null},"x2":{"datum":442},
"stroke":{"field":"s","type":"nominal","scale":{"domain":["mnc","mc","me","anc","ac","ae"],"range":["#d9d9d9","#7fcdbb","#003c30","#d9d9d9","#c2a5cf","#40004b"]}},
"strokeDash":{"condition":{"test":"datum.s=='mc'||datum.s=='ac'","value":[6,6]},"value":[1,0]}}},
{"mark":{"type":"text","align":"left","baseline":"middle","fontSize":19,"font":"DejaVu Serif"},"encoding":{"x":{"datum":461,"type":"quantitative","scale":{"domain":[0,537],"nice":false,"zero":false},"axis":null},"text":{"value":"95% CI"}}}
]}
]}
]}
]},
{"spacing":13,"vconcat":[
{"width":1084,"height":26,"data":{"values":[{"t":"Panel B: Exposure Constant Share Female (15-44) x State Population"}]},"mark":{"type":"text","fontSize":20.5,"font":"DejaVu Serif","baseline":"middle","align":"center"},"encoding":{"text":{"field":"t"},"x":{"datum":0.5,"type":"quantitative","scale":{"domain":[0,1]},"axis":null},"y":{"datum":0.5,"type":"quantitative","scale":{"domain":[0,1]},"axis":null}}},
{"spacing":5,"hconcat":[
{"spacing":24,"vconcat":[
{"width":539,"height":271,"title":{"text":"Maternal Deaths, Non-white","baseline":"alphabetic","offset":-9,"anchor":"middle"},
"layer":[
{"data":{"name":"d"},"transform":[{"filter":"datum.p=='B' && indexof(datum.s,'m')==0"}],
"encoding":{"x":{"field":"t","type":"quantitative","scale":{"domain":[-6.331,5.318],"nice":false,"zero":false},"axis":{"values":[-6,-5,-4,-3,-2,-1,0,1,2,3,4,5],"format":"d","labelAngle":45,"labelAlign":"center","labelBaseline":"middle","labelPadding":11,"tickSize":5,"labelOverlap":false,"labelFlush":false,"title":null}}},
"layer":[
{"mark":{"type":"line","strokeWidth":1.5},"encoding":{"y":{"field":"lo","type":"quantitative","scale":{"domain":[-1.613,0.608],"nice":false,"zero":false},"axis":{"values":[-1.5,-1,-0.5,0,0.5],"labelExpr":"replace(format(datum.value,'.2~f'),'0.','.')","labelAngle":-90,"labelAlign":"center","labelBaseline":"alphabetic","labelPadding":14,"tickSize":6,"labelOverlap":false,"labelFlush":false,"title":null}},
"stroke":{"field":"s","type":"nominal","scale":{"domain":["mnc","mc","me","anc","ac","ae"],"range":["#d9d9d9","#7fcdbb","#003c30","#d9d9d9","#c2a5cf","#40004b"]}},
"strokeDash":{"field":"s","type":"nominal","scale":{"domain":["mnc","mc","me","anc","ac","ae"],"range":[[1,0],[6,5],[15,8],[1,0],[6,5],[15,8]]}}}},
{"mark":{"type":"line","strokeWidth":1.5},"encoding":{"y":{"field":"hi","type":"quantitative","scale":{"domain":[-1.613,0.608],"nice":false,"zero":false}},
"stroke":{"field":"s","type":"nominal","scale":{"domain":["mnc","mc","me","anc","ac","ae"],"range":["#d9d9d9","#7fcdbb","#003c30","#d9d9d9","#c2a5cf","#40004b"]}},
"strokeDash":{"field":"s","type":"nominal","scale":{"domain":["mnc","mc","me","anc","ac","ae"],"range":[[1,0],[6,5],[15,8],[1,0],[6,5],[15,8]]}}}},
{"mark":{"type":"line","strokeJoin":"round"},"encoding":{"y":{"field":"b","type":"quantitative","scale":{"domain":[-1.613,0.608],"nice":false,"zero":false}},
"stroke":{"field":"s","type":"nominal","scale":{"domain":["mnc","mc","me","anc","ac","ae"],"range":["#d9d9d9","#7fcdbb","#003c30","#d9d9d9","#c2a5cf","#40004b"]}},
"strokeWidth":{"field":"s","type":"nominal","scale":{"type":"ordinal","domain":["mnc","mc","me","anc","ac","ae"],"range":[6,5,4,6,5,4]}}}},
{"mark":{"type":"point","filled":true,"strokeWidth":1.5,"opacity":1},"encoding":{"y":{"field":"b","type":"quantitative","scale":{"domain":[-1.613,0.608],"nice":false,"zero":false}},
"stroke":{"field":"s","type":"nominal","scale":{"domain":["mnc","mc","me","anc","ac","ae"],"range":["#d9d9d9","#7fcdbb","#003c30","#d9d9d9","#c2a5cf","#40004b"]}},
"fill":{"field":"s","type":"nominal","scale":{"domain":["mnc","mc","me","anc","ac","ae"],"range":["#d9d9d9","#7fcdbb","#003c30","#d9d9d9","#c2a5cf","#40004b"]}},
"fillOpacity":{"condition":{"test":"datum.s=='me'||datum.s=='ae'","value":0.62},"value":1},
"shape":{"field":"s","type":"nominal","scale":{"domain":["mnc","mc","me","anc","ac","ae"],"range":["diamond","circle","square","diamond","circle","square"]}},
"size":{"field":"s","type":"nominal","scale":{"type":"ordinal","domain":["mnc","mc","me","anc","ac","ae"],"range":[260,200,230,260,200,230]}}}}
]},
{"data":{"values":[{}]},"mark":{"type":"rule","color":"#000000","strokeWidth":1.5},"encoding":{"y":{"datum":0,"type":"quantitative","scale":{"domain":[-1.613,0.608],"nice":false,"zero":false}}}},
{"data":{"values":[{}]},"mark":{"type":"rule","color":"#ff0000","strokeWidth":1.5},"encoding":{"x":{"datum":-1,"type":"quantitative","scale":{"domain":[-6.331,5.318],"nice":false,"zero":false}}}},
{"data":{"values":[{}]},"mark":{"type":"rule","color":"#a0a0a0","strokeWidth":1.5},"encoding":{"x":{"datum":-6.331,"type":"quantitative","scale":{"domain":[-6.331,5.318],"nice":false,"zero":false}},"y":{"datum":-1.5,"type":"quantitative","scale":{"domain":[-1.613,0.608],"nice":false,"zero":false}},"y2":{"datum":0.5}}},
{"data":{"values":[{}]},"mark":{"type":"rule","color":"#a0a0a0","strokeWidth":1.5},"encoding":{"y":{"datum":-1.613,"type":"quantitative","scale":{"domain":[-1.613,0.608],"nice":false,"zero":false}},"x":{"datum":-6,"type":"quantitative","scale":{"domain":[-6.331,5.318],"nice":false,"zero":false}},"x2":{"datum":5}}}
]},
{"width":539,"height":116,"data":{"name":"lm"},
"encoding":{"y":{"field":"lab","type":"nominal","sort":null,"axis":null,"scale":{"type":"point","padding":0.5}}},
"layer":[
{"mark":{"type":"rule","strokeCap":"butt"},"encoding":{"x":{"datum":18,"type":"quantitative","scale":{"domain":[0,539],"nice":false,"zero":false},"axis":null},"x2":{"datum":43},
"stroke":{"field":"s","type":"nominal","scale":{"domain":["mnc","mc","me","anc","ac","ae"],"range":["#d9d9d9","#7fcdbb","#003c30","#d9d9d9","#c2a5cf","#40004b"]}},
"strokeWidth":{"field":"s","type":"nominal","scale":{"type":"ordinal","domain":["mnc","mc","me","anc","ac","ae"],"range":[6,5,4,6,5,4]}}}},
{"mark":{"type":"point","filled":true,"strokeWidth":1.5,"opacity":1},"encoding":{"x":{"datum":30,"type":"quantitative","scale":{"domain":[0,539],"nice":false,"zero":false},"axis":null},
"stroke":{"field":"s","type":"nominal","scale":{"domain":["mnc","mc","me","anc","ac","ae"],"range":["#d9d9d9","#7fcdbb","#003c30","#d9d9d9","#c2a5cf","#40004b"]}},
"fill":{"field":"s","type":"nominal","scale":{"domain":["mnc","mc","me","anc","ac","ae"],"range":["#d9d9d9","#7fcdbb","#003c30","#d9d9d9","#c2a5cf","#40004b"]}},
"fillOpacity":{"condition":{"test":"datum.s=='me'||datum.s=='ae'","value":0.62},"value":1},
"shape":{"field":"s","type":"nominal","scale":{"domain":["mnc","mc","me","anc","ac","ae"],"range":["diamond","circle","square","diamond","circle","square"]}},
"size":{"field":"s","type":"nominal","scale":{"type":"ordinal","domain":["mnc","mc","me","anc","ac","ae"],"range":[260,200,230,260,200,230]}}}},
{"mark":{"type":"text","align":"left","baseline":"middle","fontSize":19,"font":"DejaVu Serif"},"encoding":{"x":{"datum":63,"type":"quantitative","scale":{"domain":[0,539],"nice":false,"zero":false},"axis":null},"text":{"field":"lab"}}},
{"mark":{"type":"rule","strokeWidth":2,"strokeCap":"butt"},"encoding":{"x":{"datum":237,"type":"quantitative","scale":{"domain":[0,539],"nice":false,"zero":false},"axis":null},"x2":{"datum":262},
"stroke":{"field":"s","type":"nominal","scale":{"domain":["mnc","mc","me","anc","ac","ae"],"range":["#d9d9d9","#7fcdbb","#003c30","#d9d9d9","#c2a5cf","#40004b"]}},
"strokeDash":{"condition":{"test":"datum.s=='mc'||datum.s=='ac'","value":[6,6]},"value":[1,0]}}},
{"mark":{"type":"text","align":"left","baseline":"middle","fontSize":19,"font":"DejaVu Serif"},"encoding":{"x":{"datum":282,"type":"quantitative","scale":{"domain":[0,539],"nice":false,"zero":false},"axis":null},"text":{"value":"N="}}},
{"mark":{"type":"text","align":"center","baseline":"middle","fontSize":19,"font":"DejaVu Serif"},"encoding":{"x":{"datum":361,"type":"quantitative","scale":{"domain":[0,539],"nice":false,"zero":false},"axis":null},"text":{"field":"n"}}},
{"mark":{"type":"rule","strokeWidth":2,"strokeCap":"butt"},"encoding":{"x":{"datum":419,"type":"quantitative","scale":{"domain":[0,539],"nice":false,"zero":false},"axis":null},"x2":{"datum":444},
"stroke":{"field":"s","type":"nominal","scale":{"domain":["mnc","mc","me","anc","ac","ae"],"range":["#d9d9d9","#7fcdbb","#003c30","#d9d9d9","#c2a5cf","#40004b"]}},
"strokeDash":{"condition":{"test":"datum.s=='mc'||datum.s=='ac'","value":[6,6]},"value":[1,0]}}},
{"mark":{"type":"text","align":"left","baseline":"middle","fontSize":19,"font":"DejaVu Serif"},"encoding":{"x":{"datum":464,"type":"quantitative","scale":{"domain":[0,539],"nice":false,"zero":false},"axis":null},"text":{"value":"95% CI"}}}
]}
]},
{"spacing":24,"vconcat":[
{"width":537,"height":271,"title":{"text":"Abortion Deaths, Non-white","baseline":"alphabetic","offset":-9,"anchor":"middle"},
"layer":[
{"data":{"name":"d"},"transform":[{"filter":"datum.p=='B' && indexof(datum.s,'a')==0"}],
"encoding":{"x":{"field":"t","type":"quantitative","scale":{"domain":[-6.281,5.324],"nice":false,"zero":false},"axis":{"values":[-6,-5,-4,-3,-2,-1,0,1,2,3,4,5],"format":"d","labelAngle":45,"labelAlign":"center","labelBaseline":"middle","labelPadding":11,"tickSize":5,"labelOverlap":false,"labelFlush":false,"title":null}}},
"layer":[
{"mark":{"type":"line","strokeWidth":1.5},"encoding":{"y":{"field":"lo","type":"quantitative","scale":{"domain":[-3.226,1.216],"nice":false,"zero":false},"axis":{"values":[-3,-2,-1,0,1],"labelExpr":"replace(format(datum.value,'.2~f'),'0.','.')","labelAngle":-90,"labelAlign":"center","labelBaseline":"alphabetic","labelPadding":15,"tickSize":6,"labelOverlap":false,"labelFlush":false,"title":null}},
"stroke":{"field":"s","type":"nominal","scale":{"domain":["mnc","mc","me","anc","ac","ae"],"range":["#d9d9d9","#7fcdbb","#003c30","#d9d9d9","#c2a5cf","#40004b"]}},
"strokeDash":{"field":"s","type":"nominal","scale":{"domain":["mnc","mc","me","anc","ac","ae"],"range":[[1,0],[6,5],[15,8],[1,0],[6,5],[15,8]]}}}},
{"mark":{"type":"line","strokeWidth":1.5},"encoding":{"y":{"field":"hi","type":"quantitative","scale":{"domain":[-3.226,1.216],"nice":false,"zero":false}},
"stroke":{"field":"s","type":"nominal","scale":{"domain":["mnc","mc","me","anc","ac","ae"],"range":["#d9d9d9","#7fcdbb","#003c30","#d9d9d9","#c2a5cf","#40004b"]}},
"strokeDash":{"field":"s","type":"nominal","scale":{"domain":["mnc","mc","me","anc","ac","ae"],"range":[[1,0],[6,5],[15,8],[1,0],[6,5],[15,8]]}}}},
{"mark":{"type":"line","strokeJoin":"round"},"encoding":{"y":{"field":"b","type":"quantitative","scale":{"domain":[-3.226,1.216],"nice":false,"zero":false}},
"stroke":{"field":"s","type":"nominal","scale":{"domain":["mnc","mc","me","anc","ac","ae"],"range":["#d9d9d9","#7fcdbb","#003c30","#d9d9d9","#c2a5cf","#40004b"]}},
"strokeWidth":{"field":"s","type":"nominal","scale":{"type":"ordinal","domain":["mnc","mc","me","anc","ac","ae"],"range":[6,5,4,6,5,4]}}}},
{"mark":{"type":"point","filled":true,"strokeWidth":1.5,"opacity":1},"encoding":{"y":{"field":"b","type":"quantitative","scale":{"domain":[-3.226,1.216],"nice":false,"zero":false}},
"stroke":{"field":"s","type":"nominal","scale":{"domain":["mnc","mc","me","anc","ac","ae"],"range":["#d9d9d9","#7fcdbb","#003c30","#d9d9d9","#c2a5cf","#40004b"]}},
"fill":{"field":"s","type":"nominal","scale":{"domain":["mnc","mc","me","anc","ac","ae"],"range":["#d9d9d9","#7fcdbb","#003c30","#d9d9d9","#c2a5cf","#40004b"]}},
"fillOpacity":{"condition":{"test":"datum.s=='me'||datum.s=='ae'","value":0.62},"value":1},
"shape":{"field":"s","type":"nominal","scale":{"domain":["mnc","mc","me","anc","ac","ae"],"range":["diamond","circle","square","diamond","circle","square"]}},
"size":{"field":"s","type":"nominal","scale":{"type":"ordinal","domain":["mnc","mc","me","anc","ac","ae"],"range":[260,200,230,260,200,230]}}}}
]},
{"data":{"values":[{}]},"mark":{"type":"rule","color":"#000000","strokeWidth":1.5},"encoding":{"y":{"datum":0,"type":"quantitative","scale":{"domain":[-3.226,1.216],"nice":false,"zero":false}}}},
{"data":{"values":[{}]},"mark":{"type":"rule","color":"#ff0000","strokeWidth":1.5},"encoding":{"x":{"datum":-1,"type":"quantitative","scale":{"domain":[-6.281,5.324],"nice":false,"zero":false}}}},
{"data":{"values":[{}]},"mark":{"type":"rule","color":"#a0a0a0","strokeWidth":1.5},"encoding":{"x":{"datum":-6.281,"type":"quantitative","scale":{"domain":[-6.281,5.324],"nice":false,"zero":false}},"y":{"datum":-3,"type":"quantitative","scale":{"domain":[-3.226,1.216],"nice":false,"zero":false}},"y2":{"datum":1}}},
{"data":{"values":[{}]},"mark":{"type":"rule","color":"#a0a0a0","strokeWidth":1.5},"encoding":{"y":{"datum":-3.226,"type":"quantitative","scale":{"domain":[-3.226,1.216],"nice":false,"zero":false}},"x":{"datum":-6,"type":"quantitative","scale":{"domain":[-6.281,5.324],"nice":false,"zero":false}},"x2":{"datum":5}}}
]},
{"width":537,"height":116,"data":{"name":"la"},
"encoding":{"y":{"field":"lab","type":"nominal","sort":null,"axis":null,"scale":{"type":"point","padding":0.5}}},
"layer":[
{"mark":{"type":"rule","strokeCap":"butt"},"encoding":{"x":{"datum":18,"type":"quantitative","scale":{"domain":[0,537],"nice":false,"zero":false},"axis":null},"x2":{"datum":43},
"stroke":{"field":"s","type":"nominal","scale":{"domain":["mnc","mc","me","anc","ac","ae"],"range":["#d9d9d9","#7fcdbb","#003c30","#d9d9d9","#c2a5cf","#40004b"]}},
"strokeWidth":{"field":"s","type":"nominal","scale":{"type":"ordinal","domain":["mnc","mc","me","anc","ac","ae"],"range":[6,5,4,6,5,4]}}}},
{"mark":{"type":"point","filled":true,"strokeWidth":1.5,"opacity":1},"encoding":{"x":{"datum":30,"type":"quantitative","scale":{"domain":[0,537],"nice":false,"zero":false},"axis":null},
"stroke":{"field":"s","type":"nominal","scale":{"domain":["mnc","mc","me","anc","ac","ae"],"range":["#d9d9d9","#7fcdbb","#003c30","#d9d9d9","#c2a5cf","#40004b"]}},
"fill":{"field":"s","type":"nominal","scale":{"domain":["mnc","mc","me","anc","ac","ae"],"range":["#d9d9d9","#7fcdbb","#003c30","#d9d9d9","#c2a5cf","#40004b"]}},
"fillOpacity":{"condition":{"test":"datum.s=='me'||datum.s=='ae'","value":0.62},"value":1},
"shape":{"field":"s","type":"nominal","scale":{"domain":["mnc","mc","me","anc","ac","ae"],"range":["diamond","circle","square","diamond","circle","square"]}},
"size":{"field":"s","type":"nominal","scale":{"type":"ordinal","domain":["mnc","mc","me","anc","ac","ae"],"range":[260,200,230,260,200,230]}}}},
{"mark":{"type":"text","align":"left","baseline":"middle","fontSize":19,"font":"DejaVu Serif"},"encoding":{"x":{"datum":62,"type":"quantitative","scale":{"domain":[0,537],"nice":false,"zero":false},"axis":null},"text":{"field":"lab"}}},
{"mark":{"type":"rule","strokeWidth":2,"strokeCap":"butt"},"encoding":{"x":{"datum":237,"type":"quantitative","scale":{"domain":[0,537],"nice":false,"zero":false},"axis":null},"x2":{"datum":262},
"stroke":{"field":"s","type":"nominal","scale":{"domain":["mnc","mc","me","anc","ac","ae"],"range":["#d9d9d9","#7fcdbb","#003c30","#d9d9d9","#c2a5cf","#40004b"]}},
"strokeDash":{"condition":{"test":"datum.s=='mc'||datum.s=='ac'","value":[6,6]},"value":[1,0]}}},
{"mark":{"type":"text","align":"left","baseline":"middle","fontSize":19,"font":"DejaVu Serif"},"encoding":{"x":{"datum":281,"type":"quantitative","scale":{"domain":[0,537],"nice":false,"zero":false},"axis":null},"text":{"value":"N="}}},
{"mark":{"type":"text","align":"center","baseline":"middle","fontSize":19,"font":"DejaVu Serif"},"encoding":{"x":{"datum":364,"type":"quantitative","scale":{"domain":[0,537],"nice":false,"zero":false},"axis":null},"text":{"field":"n"}}},
{"mark":{"type":"rule","strokeWidth":2,"strokeCap":"butt"},"encoding":{"x":{"datum":417,"type":"quantitative","scale":{"domain":[0,537],"nice":false,"zero":false},"axis":null},"x2":{"datum":442},
"stroke":{"field":"s","type":"nominal","scale":{"domain":["mnc","mc","me","anc","ac","ae"],"range":["#d9d9d9","#7fcdbb","#003c30","#d9d9d9","#c2a5cf","#40004b"]}},
"strokeDash":{"condition":{"test":"datum.s=='mc'||datum.s=='ac'","value":[6,6]},"value":[1,0]}}},
{"mark":{"type":"text","align":"left","baseline":"middle","fontSize":19,"font":"DejaVu Serif"},"encoding":{"x":{"datum":461,"type":"quantitative","scale":{"domain":[0,537],"nice":false,"zero":false},"axis":null},"text":{"value":"95% CI"}}}
]}
]}
]}
]},
{"spacing":13,"vconcat":[
{"width":1084,"height":26,"data":{"values":[{"t":"Panel C: Exposure Female (15-44) Population Linearly Interpolated from 1960-1980"}]},"mark":{"type":"text","fontSize":20.5,"font":"DejaVu Serif","baseline":"middle","align":"center"},"encoding":{"text":{"field":"t"},"x":{"datum":0.5,"type":"quantitative","scale":{"domain":[0,1]},"axis":null},"y":{"datum":0.5,"type":"quantitative","scale":{"domain":[0,1]},"axis":null}}},
{"spacing":5,"hconcat":[
{"spacing":24,"vconcat":[
{"width":539,"height":271,"title":{"text":"Maternal Deaths, Non-white","baseline":"alphabetic","offset":-9,"anchor":"middle"},
"layer":[
{"data":{"name":"d"},"transform":[{"filter":"datum.p=='C' && indexof(datum.s,'m')==0"}],
"encoding":{"x":{"field":"t","type":"quantitative","scale":{"domain":[-6.331,5.318],"nice":false,"zero":false},"axis":{"values":[-6,-5,-4,-3,-2,-1,0,1,2,3,4,5],"format":"d","labelAngle":45,"labelAlign":"center","labelBaseline":"middle","labelPadding":11,"tickSize":5,"labelOverlap":false,"labelFlush":false,"title":null}}},
"layer":[
{"mark":{"type":"line","strokeWidth":1.5},"encoding":{"y":{"field":"lo","type":"quantitative","scale":{"domain":[-1.613,0.608],"nice":false,"zero":false},"axis":{"values":[-1.5,-1,-0.5,0,0.5],"labelExpr":"replace(format(datum.value,'.2~f'),'0.','.')","labelAngle":-90,"labelAlign":"center","labelBaseline":"alphabetic","labelPadding":14,"tickSize":6,"labelOverlap":false,"labelFlush":false,"title":null}},
"stroke":{"field":"s","type":"nominal","scale":{"domain":["mnc","mc","me","anc","ac","ae"],"range":["#d9d9d9","#7fcdbb","#003c30","#d9d9d9","#c2a5cf","#40004b"]}},
"strokeDash":{"field":"s","type":"nominal","scale":{"domain":["mnc","mc","me","anc","ac","ae"],"range":[[1,0],[6,5],[15,8],[1,0],[6,5],[15,8]]}}}},
{"mark":{"type":"line","strokeWidth":1.5},"encoding":{"y":{"field":"hi","type":"quantitative","scale":{"domain":[-1.613,0.608],"nice":false,"zero":false}},
"stroke":{"field":"s","type":"nominal","scale":{"domain":["mnc","mc","me","anc","ac","ae"],"range":["#d9d9d9","#7fcdbb","#003c30","#d9d9d9","#c2a5cf","#40004b"]}},
"strokeDash":{"field":"s","type":"nominal","scale":{"domain":["mnc","mc","me","anc","ac","ae"],"range":[[1,0],[6,5],[15,8],[1,0],[6,5],[15,8]]}}}},
{"mark":{"type":"line","strokeJoin":"round"},"encoding":{"y":{"field":"b","type":"quantitative","scale":{"domain":[-1.613,0.608],"nice":false,"zero":false}},
"stroke":{"field":"s","type":"nominal","scale":{"domain":["mnc","mc","me","anc","ac","ae"],"range":["#d9d9d9","#7fcdbb","#003c30","#d9d9d9","#c2a5cf","#40004b"]}},
"strokeWidth":{"field":"s","type":"nominal","scale":{"type":"ordinal","domain":["mnc","mc","me","anc","ac","ae"],"range":[6,5,4,6,5,4]}}}},
{"mark":{"type":"point","filled":true,"strokeWidth":1.5,"opacity":1},"encoding":{"y":{"field":"b","type":"quantitative","scale":{"domain":[-1.613,0.608],"nice":false,"zero":false}},
"stroke":{"field":"s","type":"nominal","scale":{"domain":["mnc","mc","me","anc","ac","ae"],"range":["#d9d9d9","#7fcdbb","#003c30","#d9d9d9","#c2a5cf","#40004b"]}},
"fill":{"field":"s","type":"nominal","scale":{"domain":["mnc","mc","me","anc","ac","ae"],"range":["#d9d9d9","#7fcdbb","#003c30","#d9d9d9","#c2a5cf","#40004b"]}},
"fillOpacity":{"condition":{"test":"datum.s=='me'||datum.s=='ae'","value":0.62},"value":1},
"shape":{"field":"s","type":"nominal","scale":{"domain":["mnc","mc","me","anc","ac","ae"],"range":["diamond","circle","square","diamond","circle","square"]}},
"size":{"field":"s","type":"nominal","scale":{"type":"ordinal","domain":["mnc","mc","me","anc","ac","ae"],"range":[260,200,230,260,200,230]}}}}
]},
{"data":{"values":[{}]},"mark":{"type":"rule","color":"#000000","strokeWidth":1.5},"encoding":{"y":{"datum":0,"type":"quantitative","scale":{"domain":[-1.613,0.608],"nice":false,"zero":false}}}},
{"data":{"values":[{}]},"mark":{"type":"rule","color":"#ff0000","strokeWidth":1.5},"encoding":{"x":{"datum":-1,"type":"quantitative","scale":{"domain":[-6.331,5.318],"nice":false,"zero":false}}}},
{"data":{"values":[{}]},"mark":{"type":"rule","color":"#a0a0a0","strokeWidth":1.5},"encoding":{"x":{"datum":-6.331,"type":"quantitative","scale":{"domain":[-6.331,5.318],"nice":false,"zero":false}},"y":{"datum":-1.5,"type":"quantitative","scale":{"domain":[-1.613,0.608],"nice":false,"zero":false}},"y2":{"datum":0.5}}},
{"data":{"values":[{}]},"mark":{"type":"rule","color":"#a0a0a0","strokeWidth":1.5},"encoding":{"y":{"datum":-1.613,"type":"quantitative","scale":{"domain":[-1.613,0.608],"nice":false,"zero":false}},"x":{"datum":-6,"type":"quantitative","scale":{"domain":[-6.331,5.318],"nice":false,"zero":false}},"x2":{"datum":5}}}
]},
{"width":539,"height":116,"data":{"name":"lm"},
"encoding":{"y":{"field":"lab","type":"nominal","sort":null,"axis":null,"scale":{"type":"point","padding":0.5}}},
"layer":[
{"mark":{"type":"rule","strokeCap":"butt"},"encoding":{"x":{"datum":18,"type":"quantitative","scale":{"domain":[0,539],"nice":false,"zero":false},"axis":null},"x2":{"datum":43},
"stroke":{"field":"s","type":"nominal","scale":{"domain":["mnc","mc","me","anc","ac","ae"],"range":["#d9d9d9","#7fcdbb","#003c30","#d9d9d9","#c2a5cf","#40004b"]}},
"strokeWidth":{"field":"s","type":"nominal","scale":{"type":"ordinal","domain":["mnc","mc","me","anc","ac","ae"],"range":[6,5,4,6,5,4]}}}},
{"mark":{"type":"point","filled":true,"strokeWidth":1.5,"opacity":1},"encoding":{"x":{"datum":30,"type":"quantitative","scale":{"domain":[0,539],"nice":false,"zero":false},"axis":null},
"stroke":{"field":"s","type":"nominal","scale":{"domain":["mnc","mc","me","anc","ac","ae"],"range":["#d9d9d9","#7fcdbb","#003c30","#d9d9d9","#c2a5cf","#40004b"]}},
"fill":{"field":"s","type":"nominal","scale":{"domain":["mnc","mc","me","anc","ac","ae"],"range":["#d9d9d9","#7fcdbb","#003c30","#d9d9d9","#c2a5cf","#40004b"]}},
"fillOpacity":{"condition":{"test":"datum.s=='me'||datum.s=='ae'","value":0.62},"value":1},
"shape":{"field":"s","type":"nominal","scale":{"domain":["mnc","mc","me","anc","ac","ae"],"range":["diamond","circle","square","diamond","circle","square"]}},
"size":{"field":"s","type":"nominal","scale":{"type":"ordinal","domain":["mnc","mc","me","anc","ac","ae"],"range":[260,200,230,260,200,230]}}}},
{"mark":{"type":"text","align":"left","baseline":"middle","fontSize":19,"font":"DejaVu Serif"},"encoding":{"x":{"datum":63,"type":"quantitative","scale":{"domain":[0,539],"nice":false,"zero":false},"axis":null},"text":{"field":"lab"}}},
{"mark":{"type":"rule","strokeWidth":2,"strokeCap":"butt"},"encoding":{"x":{"datum":237,"type":"quantitative","scale":{"domain":[0,539],"nice":false,"zero":false},"axis":null},"x2":{"datum":262},
"stroke":{"field":"s","type":"nominal","scale":{"domain":["mnc","mc","me","anc","ac","ae"],"range":["#d9d9d9","#7fcdbb","#003c30","#d9d9d9","#c2a5cf","#40004b"]}},
"strokeDash":{"condition":{"test":"datum.s=='mc'||datum.s=='ac'","value":[6,6]},"value":[1,0]}}},
{"mark":{"type":"text","align":"left","baseline":"middle","fontSize":19,"font":"DejaVu Serif"},"encoding":{"x":{"datum":282,"type":"quantitative","scale":{"domain":[0,539],"nice":false,"zero":false},"axis":null},"text":{"value":"N="}}},
{"mark":{"type":"text","align":"center","baseline":"middle","fontSize":19,"font":"DejaVu Serif"},"encoding":{"x":{"datum":361,"type":"quantitative","scale":{"domain":[0,539],"nice":false,"zero":false},"axis":null},"text":{"field":"n"}}},
{"mark":{"type":"rule","strokeWidth":2,"strokeCap":"butt"},"encoding":{"x":{"datum":419,"type":"quantitative","scale":{"domain":[0,539],"nice":false,"zero":false},"axis":null},"x2":{"datum":444},
"stroke":{"field":"s","type":"nominal","scale":{"domain":["mnc","mc","me","anc","ac","ae"],"range":["#d9d9d9","#7fcdbb","#003c30","#d9d9d9","#c2a5cf","#40004b"]}},
"strokeDash":{"condition":{"test":"datum.s=='mc'||datum.s=='ac'","value":[6,6]},"value":[1,0]}}},
{"mark":{"type":"text","align":"left","baseline":"middle","fontSize":19,"font":"DejaVu Serif"},"encoding":{"x":{"datum":464,"type":"quantitative","scale":{"domain":[0,539],"nice":false,"zero":false},"axis":null},"text":{"value":"95% CI"}}}
]}
]},
{"spacing":24,"vconcat":[
{"width":537,"height":271,"title":{"text":"Abortion Deaths, Non-white","baseline":"alphabetic","offset":-9,"anchor":"middle"},
"layer":[
{"data":{"name":"d"},"transform":[{"filter":"datum.p=='C' && indexof(datum.s,'a')==0"}],
"encoding":{"x":{"field":"t","type":"quantitative","scale":{"domain":[-6.281,5.324],"nice":false,"zero":false},"axis":{"values":[-6,-5,-4,-3,-2,-1,0,1,2,3,4,5],"format":"d","labelAngle":45,"labelAlign":"center","labelBaseline":"middle","labelPadding":11,"tickSize":5,"labelOverlap":false,"labelFlush":false,"title":null}}},
"layer":[
{"mark":{"type":"line","strokeWidth":1.5},"encoding":{"y":{"field":"lo","type":"quantitative","scale":{"domain":[-3.226,1.216],"nice":false,"zero":false},"axis":{"values":[-3,-2,-1,0,1],"labelExpr":"replace(format(datum.value,'.2~f'),'0.','.')","labelAngle":-90,"labelAlign":"center","labelBaseline":"alphabetic","labelPadding":15,"tickSize":6,"labelOverlap":false,"labelFlush":false,"title":null}},
"stroke":{"field":"s","type":"nominal","scale":{"domain":["mnc","mc","me","anc","ac","ae"],"range":["#d9d9d9","#7fcdbb","#003c30","#d9d9d9","#c2a5cf","#40004b"]}},
"strokeDash":{"field":"s","type":"nominal","scale":{"domain":["mnc","mc","me","anc","ac","ae"],"range":[[1,0],[6,5],[15,8],[1,0],[6,5],[15,8]]}}}},
{"mark":{"type":"line","strokeWidth":1.5},"encoding":{"y":{"field":"hi","type":"quantitative","scale":{"domain":[-3.226,1.216],"nice":false,"zero":false}},
"stroke":{"field":"s","type":"nominal","scale":{"domain":["mnc","mc","me","anc","ac","ae"],"range":["#d9d9d9","#7fcdbb","#003c30","#d9d9d9","#c2a5cf","#40004b"]}},
"strokeDash":{"field":"s","type":"nominal","scale":{"domain":["mnc","mc","me","anc","ac","ae"],"range":[[1,0],[6,5],[15,8],[1,0],[6,5],[15,8]]}}}},
{"mark":{"type":"line","strokeJoin":"round"},"encoding":{"y":{"field":"b","type":"quantitative","scale":{"domain":[-3.226,1.216],"nice":false,"zero":false}},
"stroke":{"field":"s","type":"nominal","scale":{"domain":["mnc","mc","me","anc","ac","ae"],"range":["#d9d9d9","#7fcdbb","#003c30","#d9d9d9","#c2a5cf","#40004b"]}},
"strokeWidth":{"field":"s","type":"nominal","scale":{"type":"ordinal","domain":["mnc","mc","me","anc","ac","ae"],"range":[6,5,4,6,5,4]}}}},
{"mark":{"type":"point","filled":true,"strokeWidth":1.5,"opacity":1},"encoding":{"y":{"field":"b","type":"quantitative","scale":{"domain":[-3.226,1.216],"nice":false,"zero":false}},
"stroke":{"field":"s","type":"nominal","scale":{"domain":["mnc","mc","me","anc","ac","ae"],"range":["#d9d9d9","#7fcdbb","#003c30","#d9d9d9","#c2a5cf","#40004b"]}},
"fill":{"field":"s","type":"nominal","scale":{"domain":["mnc","mc","me","anc","ac","ae"],"range":["#d9d9d9","#7fcdbb","#003c30","#d9d9d9","#c2a5cf","#40004b"]}},
"fillOpacity":{"condition":{"test":"datum.s=='me'||datum.s=='ae'","value":0.62},"value":1},
"shape":{"field":"s","type":"nominal","scale":{"domain":["mnc","mc","me","anc","ac","ae"],"range":["diamond","circle","square","diamond","circle","square"]}},
"size":{"field":"s","type":"nominal","scale":{"type":"ordinal","domain":["mnc","mc","me","anc","ac","ae"],"range":[260,200,230,260,200,230]}}}}
]},
{"data":{"values":[{}]},"mark":{"type":"rule","color":"#000000","strokeWidth":1.5},"encoding":{"y":{"datum":0,"type":"quantitative","scale":{"domain":[-3.226,1.216],"nice":false,"zero":false}}}},
{"data":{"values":[{}]},"mark":{"type":"rule","color":"#ff0000","strokeWidth":1.5},"encoding":{"x":{"datum":-1,"type":"quantitative","scale":{"domain":[-6.281,5.324],"nice":false,"zero":false}}}},
{"data":{"values":[{}]},"mark":{"type":"rule","color":"#a0a0a0","strokeWidth":1.5},"encoding":{"x":{"datum":-6.281,"type":"quantitative","scale":{"domain":[-6.281,5.324],"nice":false,"zero":false}},"y":{"datum":-3,"type":"quantitative","scale":{"domain":[-3.226,1.216],"nice":false,"zero":false}},"y2":{"datum":1}}},
{"data":{"values":[{}]},"mark":{"type":"rule","color":"#a0a0a0","strokeWidth":1.5},"encoding":{"y":{"datum":-3.226,"type":"quantitative","scale":{"domain":[-3.226,1.216],"nice":false,"zero":false}},"x":{"datum":-6,"type":"quantitative","scale":{"domain":[-6.281,5.324],"nice":false,"zero":false}},"x2":{"datum":5}}}
]},
{"width":537,"height":116,"data":{"name":"la"},
"encoding":{"y":{"field":"lab","type":"nominal","sort":null,"axis":null,"scale":{"type":"point","padding":0.5}}},
"layer":[
{"mark":{"type":"rule","strokeCap":"butt"},"encoding":{"x":{"datum":18,"type":"quantitative","scale":{"domain":[0,537],"nice":false,"zero":false},"axis":null},"x2":{"datum":43},
"stroke":{"field":"s","type":"nominal","scale":{"domain":["mnc","mc","me","anc","ac","ae"],"range":["#d9d9d9","#7fcdbb","#003c30","#d9d9d9","#c2a5cf","#40004b"]}},
"strokeWidth":{"field":"s","type":"nominal","scale":{"type":"ordinal","domain":["mnc","mc","me","anc","ac","ae"],"range":[6,5,4,6,5,4]}}}},
{"mark":{"type":"point","filled":true,"strokeWidth":1.5,"opacity":1},"encoding":{"x":{"datum":30,"type":"quantitative","scale":{"domain":[0,537],"nice":false,"zero":false},"axis":null},
"stroke":{"field":"s","type":"nominal","scale":{"domain":["mnc","mc","me","anc","ac","ae"],"range":["#d9d9d9","#7fcdbb","#003c30","#d9d9d9","#c2a5cf","#40004b"]}},
"fill":{"field":"s","type":"nominal","scale":{"domain":["mnc","mc","me","anc","ac","ae"],"range":["#d9d9d9","#7fcdbb","#003c30","#d9d9d9","#c2a5cf","#40004b"]}},
"fillOpacity":{"condition":{"test":"datum.s=='me'||datum.s=='ae'","value":0.62},"value":1},
"shape":{"field":"s","type":"nominal","scale":{"domain":["mnc","mc","me","anc","ac","ae"],"range":["diamond","circle","square","diamond","circle","square"]}},
"size":{"field":"s","type":"nominal","scale":{"type":"ordinal","domain":["mnc","mc","me","anc","ac","ae"],"range":[260,200,230,260,200,230]}}}},
{"mark":{"type":"text","align":"left","baseline":"middle","fontSize":19,"font":"DejaVu Serif"},"encoding":{"x":{"datum":62,"type":"quantitative","scale":{"domain":[0,537],"nice":false,"zero":false},"axis":null},"text":{"field":"lab"}}},
{"mark":{"type":"rule","strokeWidth":2,"strokeCap":"butt"},"encoding":{"x":{"datum":237,"type":"quantitative","scale":{"domain":[0,537],"nice":false,"zero":false},"axis":null},"x2":{"datum":262},
"stroke":{"field":"s","type":"nominal","scale":{"domain":["mnc","mc","me","anc","ac","ae"],"range":["#d9d9d9","#7fcdbb","#003c30","#d9d9d9","#c2a5cf","#40004b"]}},
"strokeDash":{"condition":{"test":"datum.s=='mc'||datum.s=='ac'","value":[6,6]},"value":[1,0]}}},
{"mark":{"type":"text","align":"left","baseline":"middle","fontSize":19,"font":"DejaVu Serif"},"encoding":{"x":{"datum":281,"type":"quantitative","scale":{"domain":[0,537],"nice":false,"zero":false},"axis":null},"text":{"value":"N="}}},
{"mark":{"type":"text","align":"center","baseline":"middle","fontSize":19,"font":"DejaVu Serif"},"encoding":{"x":{"datum":364,"type":"quantitative","scale":{"domain":[0,537],"nice":false,"zero":false},"axis":null},"text":{"field":"n"}}},
{"mark":{"type":"rule","strokeWidth":2,"strokeCap":"butt"},"encoding":{"x":{"datum":417,"type":"quantitative","scale":{"domain":[0,537],"nice":false,"zero":false},"axis":null},"x2":{"datum":442},
"stroke":{"field":"s","type":"nominal","scale":{"domain":["mnc","mc","me","anc","ac","ae"],"range":["#d9d9d9","#7fcdbb","#003c30","#d9d9d9","#c2a5cf","#40004b"]}},
"strokeDash":{"condition":{"test":"datum.s=='mc'||datum.s=='ac'","value":[6,6]},"value":[1,0]}}},
{"mark":{"type":"text","align":"left","baseline":"middle","fontSize":19,"font":"DejaVu Serif"},"encoding":{"x":{"datum":461,"type":"quantitative","scale":{"domain":[0,537],"nice":false,"zero":false},"axis":null},"text":{"value":"95% CI"}}}
]}
]}
]}
]}
]
}
